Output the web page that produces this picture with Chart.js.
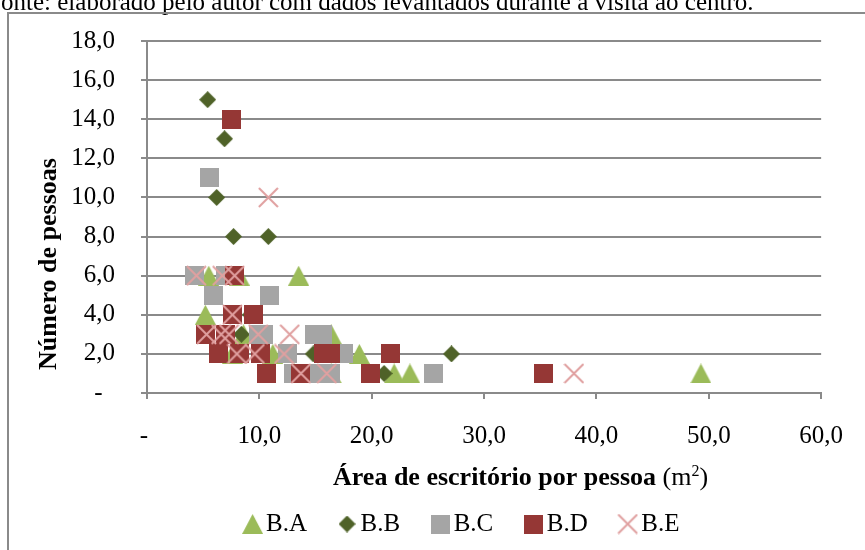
<!DOCTYPE html>
<html>
<head>
<meta charset="utf-8">
<script src="https://cdn.jsdelivr.net/npm/chart.js@4.4.1/dist/chart.umd.min.js"></script>
<style>
  html, body { margin: 0; padding: 0; background: #ffffff; }
  #wrap { width: 865px; height: 550px; }
</style>
</head>
<body>
<div id="wrap"><canvas id="chart" width="865" height="550"></canvas></div>
<script>
// Área de escritório por pessoa (m²) x número de pessoas, por bloco
const seriesNames = ['B.A', 'B.B', 'B.C', 'B.D', 'B.E'];

const areaBA    = [5.5, 8.2, 13.5, 5.2, 8.6, 16.4, 7.6, 11.2, 18.9, 13.1, 16.4, 22.0, 23.4, 49.3];
const pessoasBA = [6,   6,   6,    4,   3,   3,    2,   2,    2,    1,    1,    1,    1,    1];

const areaBB    = [5.4, 6.9, 6.2, 7.7, 10.8, 9.2, 8.4, 14.8, 27.1, 21.1];
const pessoasBB = [15,  13,  10,  8,   8,    4,   3,   2,    2,    1];

const areaBC    = [5.6, 4.2, 7.0, 5.9, 10.9, 9.9, 10.4, 14.9, 15.6, 12.5, 17.5, 13.0, 15.2, 16.3, 25.5];
const pessoasBC = [11,  6,   6,   5,   5,    3,   3,    3,    3,    2,    2,    1,    1,    1,    1];

const areaBD    = [7.5, 7.8, 7.6, 9.5, 5.2, 7.0, 6.4, 8.2, 10.1, 15.7, 16.3, 21.7, 10.6, 13.7, 19.9, 35.3];
const pessoasBD = [14,  6,   4,   4,   3,   3,   2,   2,   2,    2,    2,    2,    1,    1,    1,    1];

const areaBE    = [10.8, 4.4, 6.7, 7.8, 7.6, 5.3, 6.6, 7.3, 9.9, 12.7, 8.0, 9.6, 12.2, 13.7, 16.0, 38.0];
const pessoasBE = [10,   6,   6,   6,   4,   3,   3,   3,   3,   3,    2,   2,   2,    1,    1,    1];

const xTickValues = [0, 10, 20, 30, 40, 50, 60];
const yTickValues = [0, 2, 4, 6, 8, 10, 12, 14, 16, 18];

const sourceNote = 'onte: elaborado pelo autor com dados levantados durante a visita ao centro.';
const yTitle = 'Número de pessoas';
const xTitleBold = 'Área de escritório por pessoa';
const xTitleUnit = ['(m', '2', ')'];

const FONT = '"Liberation Serif", "Times New Roman", serif';
const GRID = '#8a8a8a';

// marker sprites
function sprite(w, h, paint) {
  const c = document.createElement('canvas');
  c.width = w; c.height = h;
  paint(c.getContext('2d'));
  return c;
}
const triangle = sprite(21, 20, g => {
  g.fillStyle = '#9BBB59';
  g.beginPath(); g.moveTo(10.5, 0); g.lineTo(21, 20); g.lineTo(0, 20); g.closePath(); g.fill();
});
const diamond = sprite(17, 17, g => {
  g.fillStyle = '#4F6228';
  g.beginPath(); g.moveTo(8.5, 0); g.lineTo(17, 8.5); g.lineTo(8.5, 17); g.lineTo(0, 8.5); g.closePath(); g.fill();
});
const graySquare = sprite(19, 19, g => { g.fillStyle = '#A5A5A5'; g.fillRect(0, 0, 19, 19); });
const redSquare = sprite(19, 19, g => { g.fillStyle = '#953735'; g.fillRect(0, 0, 19, 19); });
const cross = sprite(21, 21, g => {
  g.strokeStyle = '#E0A0A0'; g.lineWidth = 2;
  g.beginPath(); g.moveTo(1, 1); g.lineTo(20, 20); g.moveTo(20, 1); g.lineTo(1, 20); g.stroke();
});

function points(xs, ys) { return xs.map((x, i) => ({ x: x, y: ys[i] })); }

// later blocks are painted over earlier ones (lower order = on top)
const datasets = [
  { label: seriesNames[0], data: points(areaBA, pessoasBA), pointStyle: triangle,   order: 5 },
  { label: seriesNames[1], data: points(areaBB, pessoasBB), pointStyle: diamond,    order: 4 },
  { label: seriesNames[2], data: points(areaBC, pessoasBC), pointStyle: graySquare, order: 3 },
  { label: seriesNames[3], data: points(areaBD, pessoasBD), pointStyle: redSquare,  order: 2 },
  { label: seriesNames[4], data: points(areaBE, pessoasBE), pointStyle: cross,      order: 1 }
].map(d => Object.assign(d, { pointRadius: 10, pointHoverRadius: 10, showLine: false }));

function fmt(v) { return v.toFixed(1).replace('.', ','); }

const frameAndTitles = {
  id: 'frameAndTitles',
  afterLayout(chart) {
    // centre the legend row under the plot rather than the whole canvas
    const shift = 45;
    chart.legend.left += shift;
    chart.legend.right += shift;
  },
  beforeDraw(chart) {
    const ctx = chart.ctx;
    ctx.save();
    ctx.fillStyle = '#ffffff';
    ctx.fillRect(0, 0, chart.width, chart.height);
    ctx.fillStyle = '#000000';
    ctx.font = '25px ' + FONT;
    ctx.textBaseline = 'alphabetic';
    ctx.textAlign = 'left';
    ctx.fillText(sourceNote, 1, 10);
    ctx.strokeStyle = GRID;
    ctx.lineWidth = 2;
    ctx.beginPath();
    ctx.moveTo(8, chart.height);
    ctx.lineTo(8, 13);
    ctx.lineTo(chart.width, 13);
    ctx.stroke();
    ctx.restore();
  },
  afterDraw(chart) {
    const ctx = chart.ctx;
    const area = chart.chartArea;
    ctx.save();
    ctx.fillStyle = '#000000';
    ctx.textBaseline = 'alphabetic';
    // vertical title
    ctx.font = 'bold 26px ' + FONT;
    ctx.translate(area.left - 91, (area.top + area.bottom) / 2 + 47);
    ctx.rotate(-Math.PI / 2);
    ctx.textAlign = 'center';
    ctx.fillText(yTitle, 0, 0);
    ctx.setTransform(1, 0, 0, 1, 0, 0);
    // horizontal title: bold words, regular unit with superscript
    ctx.textAlign = 'left';
    let x = area.left + 186;
    const base = area.bottom + 92;
    ctx.font = 'bold 26px ' + FONT;
    ctx.fillText(xTitleBold + ' ', x, base);
    x += ctx.measureText(xTitleBold + ' ').width;
    ctx.font = '26px ' + FONT;
    ctx.fillText(xTitleUnit[0], x, base);
    x += ctx.measureText(xTitleUnit[0]).width;
    ctx.font = '16px ' + FONT;
    ctx.fillText(xTitleUnit[1], x, base - 9);
    x += ctx.measureText(xTitleUnit[1]).width;
    ctx.font = '26px ' + FONT;
    ctx.fillText(xTitleUnit[2], x, base);
    ctx.restore();
  }
};

new Chart(document.getElementById('chart'), {
  type: 'scatter',
  data: { datasets: datasets },
  plugins: [frameAndTitles],
  options: {
    responsive: false,
    animation: false,
    events: [],
    layout: { padding: { left: 8, right: 32, top: 40, bottom: 3.5 } },
    scales: {
      x: {
        type: 'linear',
        min: 0, max: 60,
        afterFit(scale) { scale.height = 79.5; },
        afterBuildTicks(scale) { scale.ticks = xTickValues.map(v => ({ value: v })); },
        grid: { drawOnChartArea: false, drawTicks: true, tickLength: 6, color: GRID, lineWidth: 2 },
        border: { color: GRID, width: 2 },
        ticks: {
          padding: 22,
          color: '#000000',
          font: { family: FONT, size: 25 },
          callback: v => (v === 0 ? '- ' : fmt(v))
        }
      },
      y: {
        type: 'linear',
        min: 0, max: 18,
        afterFit(scale) { scale.width = 139; },
        afterBuildTicks(scale) { scale.ticks = yTickValues.map(v => ({ value: v })); },
        grid: { drawOnChartArea: true, drawTicks: true, tickLength: 6, color: GRID, lineWidth: 2 },
        border: { color: GRID, width: 2 },
        ticks: {
          padding: 26,
          color: '#000000',
          font: { family: FONT, size: 25 },
          callback: v => (v === 0 ? '-  ' : fmt(v))
        }
      }
    },
    plugins: {
      title: { display: false },
      tooltip: { enabled: false },
      legend: {
        display: true,
        position: 'bottom',
        reverse: true,
        labels: {
          usePointStyle: true,
          pointStyleWidth: 2,
          padding: 39,
          color: '#000000',
          font: { family: FONT, size: 25 }
        }
      }
    }
  }
});
</script>
</body>
</html>
